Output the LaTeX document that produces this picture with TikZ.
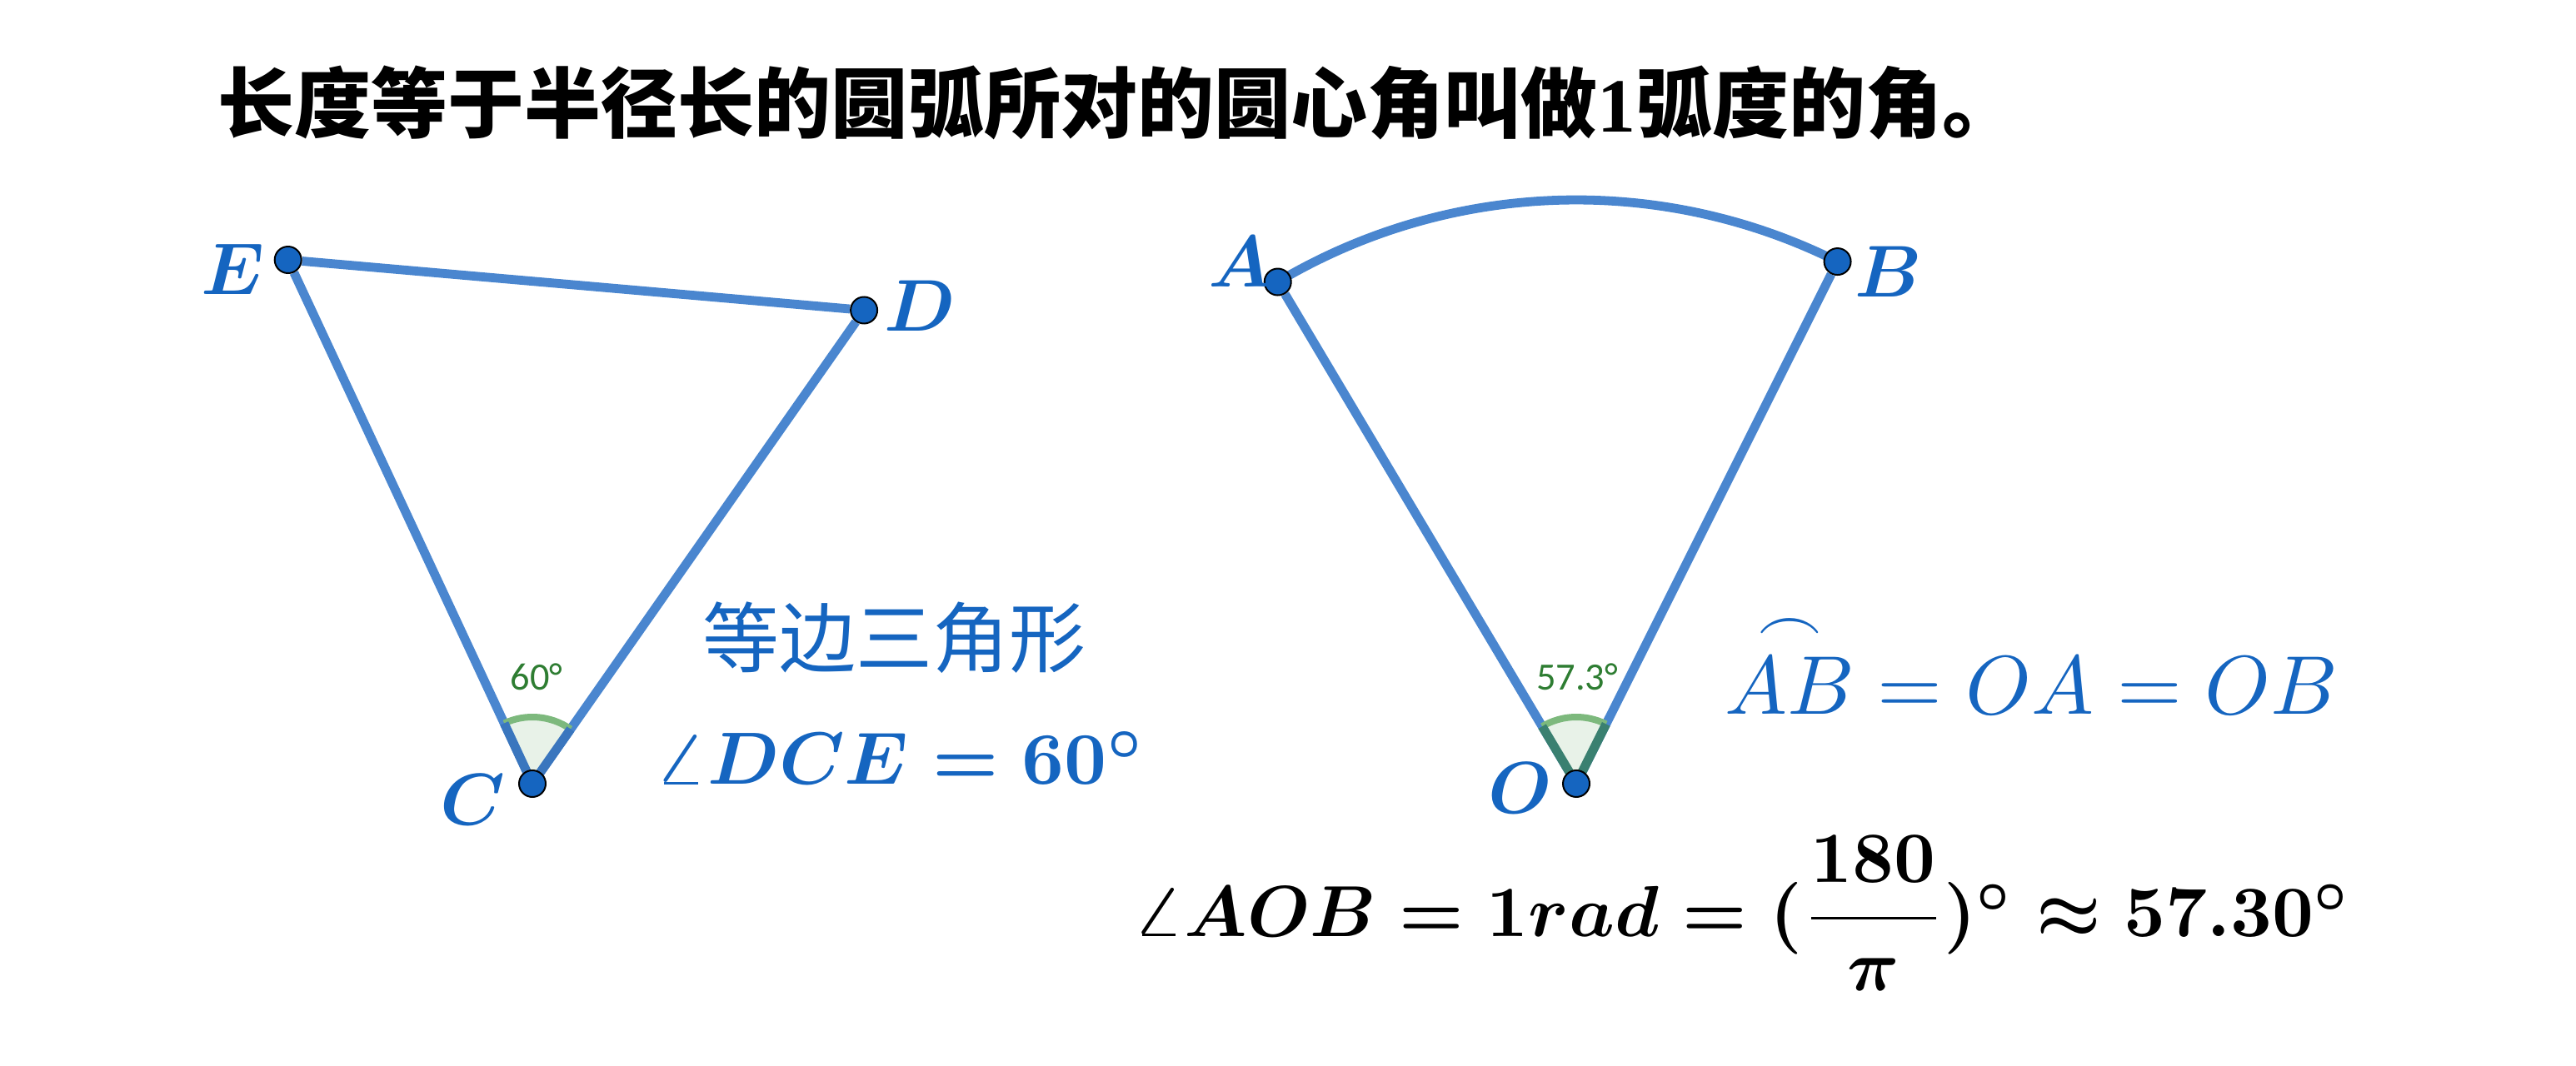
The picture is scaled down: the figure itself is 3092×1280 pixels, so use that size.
\documentclass[tikz,border=0pt]{standalone}
\usepackage{amsmath}
\usepackage{fontspec}
\newfontfamily\cjk{Noto Sans CJK SC}
\newfontfamily\anglefont{Carlito}
\newfontfamily\digitfont{Liberation Serif}
\usetikzlibrary{positioning,calc}
\pgfdeclarelayer{background}
\pgfsetlayers{background,main}
\definecolor{sideblue}{RGB}{74,134,207}
\definecolor{ptblue}{RGB}{21,101,192}
\definecolor{anggreen}{RGB}{46,125,50}
\definecolor{arcgreen}{RGB}{125,185,125}
\definecolor{sectfill}{RGB}{232,242,232}
\definecolor{legblue}{RGB}{58,118,190}
\definecolor{legteal}{RGB}{58,128,112}
\tikzstyle{pt}=[circle, draw=black, fill=ptblue, line width=0.5pt,
  minimum size=8pt, inner sep=0pt]
\tikzstyle{ptlabel}=[text=ptblue, inner sep=0pt, scale=2.2,
  font=\normalsize\boldmath]
\tikzstyle{side}=[draw, color=sideblue, line width=2.7pt, line join=round]
\tikzstyle{arcstroke}=[draw, color=arcgreen, line width=2pt]
\tikzstyle{angtext}=[text=anggreen, inner sep=0pt,
  font=\anglefont\fontsize{11.6}{14}\selectfont]
\tikzstyle{bluetext}=[text=ptblue, inner sep=0pt, anchor=base west,
  font=\normalsize]
\newcommand{\anglemark}[4]{% vertex, start, end, leg colour
  \fill[sectfill] (#1.center) -- ++(#2:80) arc[start angle=#2, end angle=#3, radius=80] -- cycle;
  \path[arcstroke] ([shift={(#2:80)}]#1.center) arc[start angle=#2, end angle=#3, radius=80];
  \draw[color=#4, line width=2.7pt] (#1.center) -- ++(#2:80);
  \draw[color=#4, line width=2.7pt] (#1.center) -- ++(#3:80);}

\begin{document}
\begin{tikzpicture}[x=0.25pt, y=0.25pt]
  \useasboundingbox (0,0) rectangle (3092,-1280);

  % title
  \node (TITLE) [inner sep=0pt, font=\cjk\bfseries\fontsize{23}{28}\selectfont]
    at (1342,-124) {长度等于半径长的圆弧所对的圆心角叫做{\digitfont 1}弧度的角。};

  % equilateral triangle
  \node (C) [pt] at (639,-941) {};
  \path (C) ++(115:694) node (E) [pt] {};
  \path (C) ++(55:694) node (D) [pt] {};
  \node (LE) [ptlabel] at ([shift={(-66,-11)}]E) {$E$};
  \node (LD) [ptlabel] at ([shift={(67,5)}]D) {$D$};
  \node (LC) [ptlabel] at ([shift={(-71,-19)}]C) {$C$};
  \node (ANGC) [angtext] at ([shift={(5,128)}]C) {60°};

  % sector with one radian
  \node (O) [pt] at (1892,-941) {};
  \path (O) ++(120.74:701) node (A) [pt] {};
  \path (O) ++(63.43:701) node (B) [pt] {};
  \node (LA) [ptlabel] at ([shift={(-45,24)}]A) {$A$};
  \node (LB) [ptlabel] at ([shift={(61,-12)}]B) {$B$};
  \node (LO) [ptlabel] at ([shift={(-67,-5)}]O) {$O$};
  \node (ANGO) [angtext] at ([shift={(1,128)}]O) {57.3°};

  % texts
  \node (EQUI) [text=ptblue, inner sep=0pt, font=\cjk\fontsize{23}{28}\selectfont]
    at (1073,-766) {等边三角形};
  \node (DCE) [bluetext, scale=2.22, font=\normalsize\boldmath]
    at (784,-942) {$\angle DCE=60^\circ$};
  \node (ARCAB) [bluetext, scale=2.5] at (2068,-858) {$\overset{\frown}{AB}=OA=OB$};
  \node (RAD) [inner sep=0pt, anchor=base west, scale=2.17, font=\normalsize\boldmath]
    at (1358,-1124) {$\angle AOB=1rad=(\dfrac{180}{\pi})^\circ\approx57.30^\circ$};

  % sides, arc and angle marks
  \begin{pgfonlayer}{background}
    \path [side] (C) -- (E) -- (D) -- (C);
    \path [side] (O) -- (A);
    \path [side] (O) -- (B);
    \path [side] (A.center) arc[start angle=120.74, end angle=63.43, radius=701];
    \anglemark{C}{55}{115}{legblue}
    \anglemark{O}{63.43}{120.74}{legteal}
  \end{pgfonlayer}
\end{tikzpicture}
\end{document}
